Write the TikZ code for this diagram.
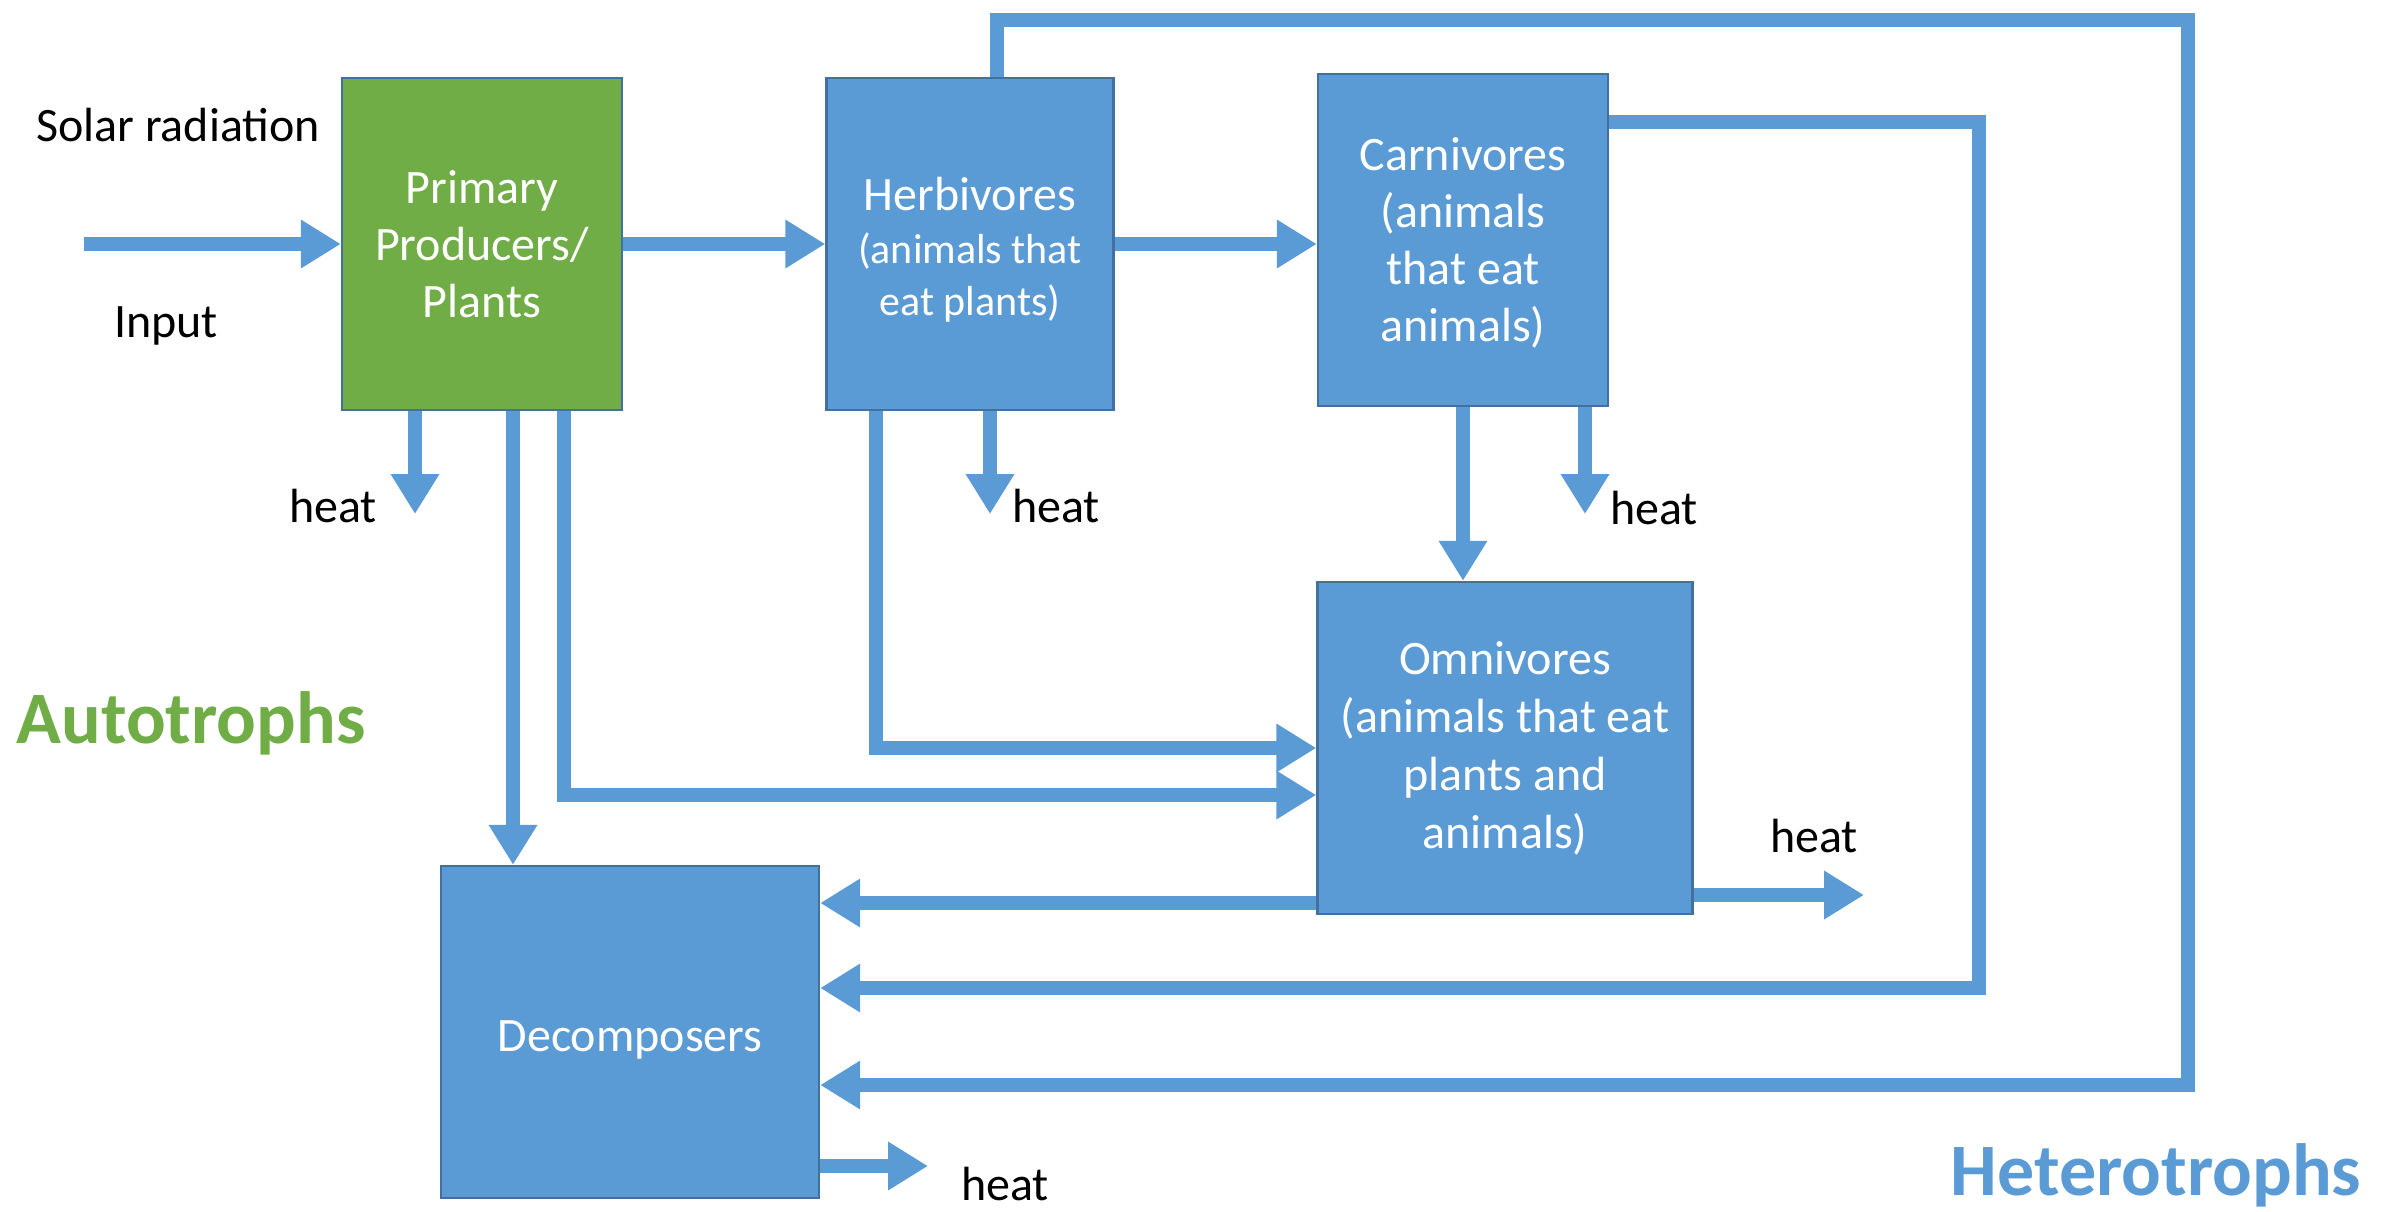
\documentclass[tikz,border=0pt]{standalone}
\usepackage{fontspec}
\setmainfont{Carlito}
\usetikzlibrary{arrows.meta}
\definecolor{boxblue}{HTML}{5B9BD5}
\definecolor{boxline}{HTML}{41719C}
\definecolor{plantgreen}{HTML}{70AD47}
\newcommand{\boxfont}{\fontsize{24}{28.5}\selectfont}
\newcommand{\smallboxfont}{\fontsize{21}{26.3}\selectfont}
\newcommand{\bigfont}{\fontsize{37}{44}\selectfont\bfseries}

\begin{document}
\begin{tikzpicture}[x=0.5pt,y=-0.5pt,
    box/.style={draw=boxline, line width=1.2pt, fill=boxblue, text=white, align=center,
        minimum width=#1, minimum height=166pt, inner sep=0pt, font=\boxfont},
    flow/.style={draw=boxblue, line width=7pt, -{Triangle[width=23pt,length=20pt]}},
    lbl/.style={font=\boxfont}]
    \useasboundingbox (0,0) rectangle (2392,1211);

    \node[box=140pt, fill=plantgreen] (pp) at (482,244) {Primary\\Producers/\\Plants};
    \node[box=143.5pt, font=\smallboxfont] (hb) at (970,244) {\rule{0pt}{22.5pt}{\boxfont Herbivores}\\(animals that\\eat plants)};
    \node[box=145pt] (cv) at (1463,240) {\rule{0pt}{19pt}Carnivores\\(animals\\that eat\\animals)};
    \node[box=187.5pt, font=\fontsize{24}{29}\selectfont] (om) at (1505,748) {Omnivores\\(animals that eat\\plants and\\animals)};
    \node[box=189pt] (dc) at (630,1032) {\rule{0pt}{23pt}Decomposers};

    \node[lbl] (solar) at (178,125) {Solar radiation};
    \node[lbl] (input) at (166,326) {Input};
    \node[lbl] (heatpp) at (333,506) {heat};
    \node[lbl] (heathb) at (1056,506) {heat};
    \node[lbl] (heatcv) at (1654,508) {heat};
    \node[lbl] (heatom) at (1814,836) {heat};
    \node[lbl] (heatdc) at (1005,1184) {heat};
    \node[font=\bigfont, text=plantgreen] (auto) at (191,723) {Autotrophs};
    \node[font=\bigfont, text=boxblue] (hetero) at (2156,1175) {Heterotrophs};

    \coordinate (sun) at (84,244);
    \draw[flow] (sun) -- (pp.west);
    \draw[flow] (pp.east) -- (pp.east -| hb.west);
    \draw[flow] (hb.east) -- (hb.east -| cv.west);
    \draw[flow] (cv.south) -- (cv.south |- om.north);

    \draw[flow] (415,0 |- pp.south) -- (415,514);
    \draw[flow] (990,0 |- hb.south) -- (990,514);
    \draw[flow] (1585,0 |- cv.south) -- (1585,514);
    \draw[flow] (om.east |- 0,895) -- (1864,895);
    \draw[flow] (dc.east |- 0,1166) -- (928,1166);

    \draw[flow] (513,0 |- pp.south) -- (513,0 |- dc.north);
    \draw[flow] (564,0 |- pp.south) -- (564,795) -- (om.west |- 0,795);
    \draw[flow] (876,0 |- hb.south) -- (876,748) -- (om.west);
    \draw[flow] (om.west |- 0,903) -- (dc.east |- 0,903);
    \draw[flow] (cv.east |- 0,122) -- (1979,122) -- (1979,988) -- (dc.east |- 0,988);
    \draw[flow] (997,0 |- hb.north) -- (997,20) -- (2188,20) -- (2188,1085) -- (dc.east |- 0,1085);
\end{tikzpicture}
\end{document}
